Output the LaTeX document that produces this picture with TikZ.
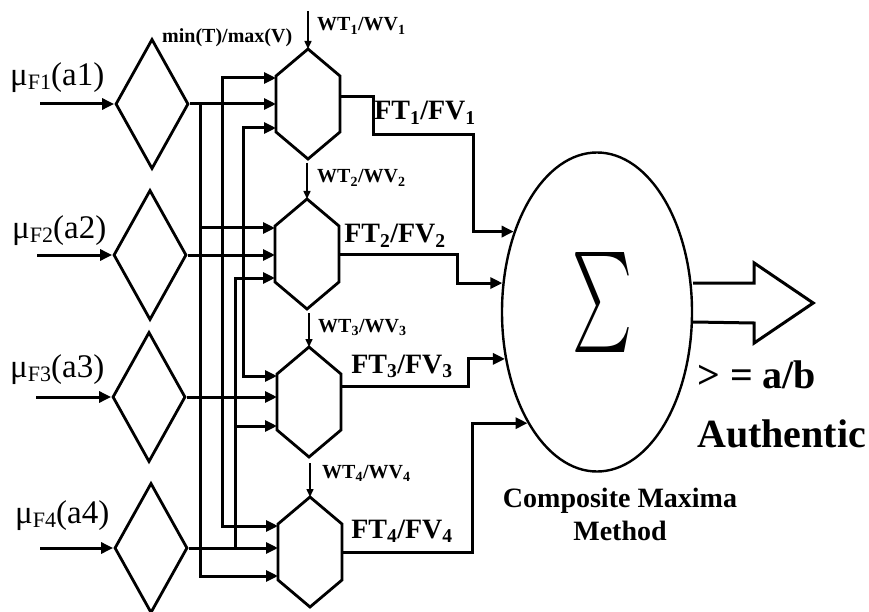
\documentclass[tikz,border=0pt]{standalone}
\usepackage{fontspec}
\setmainfont{Liberation Serif}
\usepackage{tikz}
\usetikzlibrary{shapes.geometric, arrows.meta, positioning, calc}

\begin{document}
\begin{tikzpicture}[
    x=1pt, y=-1pt,
    diam/.style={diamond, draw=black, line width=2.8pt, minimum width=73pt, minimum height=130pt, inner sep=0pt},
    hexnode/.style={rectangle, minimum width=64pt, minimum height=110pt, inner sep=0pt, outer sep=0pt},
    hexline/.style={draw=black, line width=2.8pt},
    sumnode/.style={ellipse, draw=black, line width=2.4pt, minimum width=190pt, minimum height=319pt, inner sep=0pt},
    wire/.style={line width=3pt},
    arrow/.style={wire, -{Triangle[length=12pt, width=11pt]}},
    backarrow/.style={wire, {Triangle[length=12pt, width=11pt]}-},
    twoarrow/.style={wire, {Triangle[length=12pt, width=11pt]}-{Triangle[length=12pt, width=11pt]}},
    weightarrow/.style={line width=1.5pt, -{Triangle[length=8pt, width=7pt]}},
    inlabel/.style={anchor=base west, inner sep=0pt, font=\fontsize{33}{33}\selectfont},
    wlabel/.style={anchor=base west, inner sep=0pt, font=\fontsize{20}{20}\selectfont\bfseries},
    flabel/.style={anchor=base, inner sep=0pt, font=\fontsize{28}{28}\selectfont\bfseries},
    biglabel/.style={anchor=base west, inner sep=0pt, font=\fontsize{40}{40}\selectfont\bfseries}
]
\useasboundingbox (0,0) rectangle (869,612);

% === Inputs (left side) ===
\coordinate (in1) at (40,104);
\coordinate (in2) at (37,255);
\coordinate (in3) at (36,397);
\coordinate (in4) at (40,548);

\node[diam] (d1) at (152,104) {};
\node[diam] (d2) at (150,255) {};
\node[diam] (d3) at (149,397) {};
\node[diam] (d4) at (151,548) {};

\node[inlabel] (mu1) at (10,86) {μ\raisebox{-4pt}{\fontsize{22}{22}\selectfont F1}(a1)};
\node[inlabel] (mu2) at (12,238) {μ\raisebox{-4pt}{\fontsize{22}{22}\selectfont F2}(a2)};
\node[inlabel] (mu3) at (10,377) {μ\raisebox{-4pt}{\fontsize{22}{22}\selectfont F3}(a3)};
\node[inlabel] (mu4) at (15,523) {μ\raisebox{-4pt}{\fontsize{22}{22}\selectfont F4}(a4)};

\draw[arrow] (in1) -- (d1.west);
\draw[arrow] (in2) -- (d2.west);
\draw[arrow] (in3) -- (d3.west);
\draw[arrow] (in4) -- (d4.west);

% === min/max blocks (center) ===
\node[wlabel] (minmax) at (162,43) {min(T)/max(V)};

\node[hexnode] (h1) at (308,104) {};
\node[hexnode] (h2) at (307,254) {};
\node[hexnode] (h3) at (309,402) {};
\node[hexnode] (h4) at (310,552) {};

\draw[hexline] (h1.north) -- ([yshift=-27pt]h1.north west) -- ([yshift=27pt]h1.south west) -- (h1.south) -- ([yshift=27pt]h1.south east) -- ([yshift=-27pt]h1.north east) -- cycle;
\draw[hexline] (h2.north) -- ([yshift=-27pt]h2.north west) -- ([yshift=27pt]h2.south west) -- (h2.south) -- ([yshift=27pt]h2.south east) -- ([yshift=-27pt]h2.north east) -- cycle;
\draw[hexline] (h3.north) -- ([yshift=-27pt]h3.north west) -- ([yshift=27pt]h3.south west) -- (h3.south) -- ([yshift=27pt]h3.south east) -- ([yshift=-27pt]h3.north east) -- cycle;
\draw[hexline] (h4.north) -- ([yshift=-27pt]h4.north west) -- ([yshift=27pt]h4.south west) -- (h4.south) -- ([yshift=27pt]h4.south east) -- ([yshift=-27pt]h4.north east) -- cycle;

% upper and lower inputs of each block
\coordinate (h1t) at ([yshift=26pt]h1.west);
\coordinate (h1b) at ([yshift=-24pt]h1.west);
\coordinate (h2t) at ([yshift=26pt]h2.west);
\coordinate (h2b) at ([yshift=-24pt]h2.west);
\coordinate (h3t) at ([yshift=26pt]h3.west);
\coordinate (h3b) at ([yshift=-24pt]h3.west);
\coordinate (h4t) at ([yshift=26pt]h4.west);
\coordinate (h4b) at ([yshift=-24pt]h4.west);

% weights
\coordinate (w1s) at ([yshift=38pt]h1.north);
\coordinate (w2s) at ([yshift=36pt]h2.north);
\coordinate (w3s) at ([yshift=34pt]h3.north);
\coordinate (w4s) at ([yshift=34pt]h4.north);
\draw[weightarrow] (w1s) -- (h1.north);
\draw[weightarrow] (w2s) -- (h2.north);
\draw[weightarrow] (w3s) -- (h3.north);
\draw[weightarrow] (w4s) -- (h4.north);
\node[wlabel] (w1) at (317,31) {WT\textsubscript{1}/WV\textsubscript{1}};
\node[wlabel] (w2) at (317,183) {WT\textsubscript{2}/WV\textsubscript{2}};
\node[wlabel] (w3) at (318,332) {WT\textsubscript{3}/WV\textsubscript{3}};
\node[wlabel] (w4) at (322,478) {WT\textsubscript{4}/WV\textsubscript{4}};

% === Wiring between inputs and blocks ===
\coordinate (j1) at (200,104);
\coordinate (j2) at (243,255);
\coordinate (j3) at (222,397);
\coordinate (j4) at (235,548);

\draw[arrow] (d1.east) -- (d1.east -| h1.west);
\draw[arrow] (d2.east) -- (d2.east -| h2.west);
\draw[arrow] (d3.east) -- (d3.east -| h3.west);
\draw[arrow] (d4.east) -- (d4.east -| h4.west);

\draw[arrow] (j1) |- (h4b);
\draw[arrow] (j1 |- h2t) -- (h2t);
\draw[twoarrow] (h1b) -| (j2) |- (h3t);
\draw[twoarrow] (h1t) -| (j3) |- (h4t);
\draw[backarrow] (h2b) -| (j4);
\draw[arrow] (j4 |- h3b) -- (h3b);

% === Composite maxima (right side) ===
\node[sumnode] (sum) at (597,312) {};
\node[inner sep=0pt] (sigma) at (602,302) {\resizebox*{60pt}{100pt}{$\sum$}};
\node[font=\fontsize{28}{33}\selectfont\bfseries, align=center, anchor=north, inner sep=0pt] (cmm) at (620,488) {Composite Maxima\\Method};

\draw[arrow] ([yshift=7pt]h1.east) -| ++(33,38) -- ++(100,0) |- (sum.136);
\draw[arrow] (h2.east) -- ++(118,0) |- (sum.163);
\draw[arrow] ([yshift=16pt]h3.east) -- ++(127,0) |- (sum.207);
\draw[arrow] (h4.east) -- ++(130,0) |- (sum.238);

\node[flabel] (f1) at (425,120) {FT\textsubscript{1}/FV\textsubscript{1}};
\node[flabel] (f2) at (395,243) {FT\textsubscript{2}/FV\textsubscript{2}};
\node[flabel] (f3) at (402,373) {FT\textsubscript{3}/FV\textsubscript{3}};
\node[flabel] (f4) at (402,538) {FT\textsubscript{4}/FV\textsubscript{4}};

% === Output ===
\draw[wire, line join=miter] ([yshift=29pt]sum.east) -- ++(61,0) -- ++(0,-20) -- ++(59,40) -- ++(-59,40) -- ++(0,-20) -- ([yshift=-10pt]sum.east);
\node[biglabel] (thr) at (697,388) {> = a/b};
\node[biglabel] (auth) at (697,447) {Authentic};

\end{tikzpicture}
\end{document}
